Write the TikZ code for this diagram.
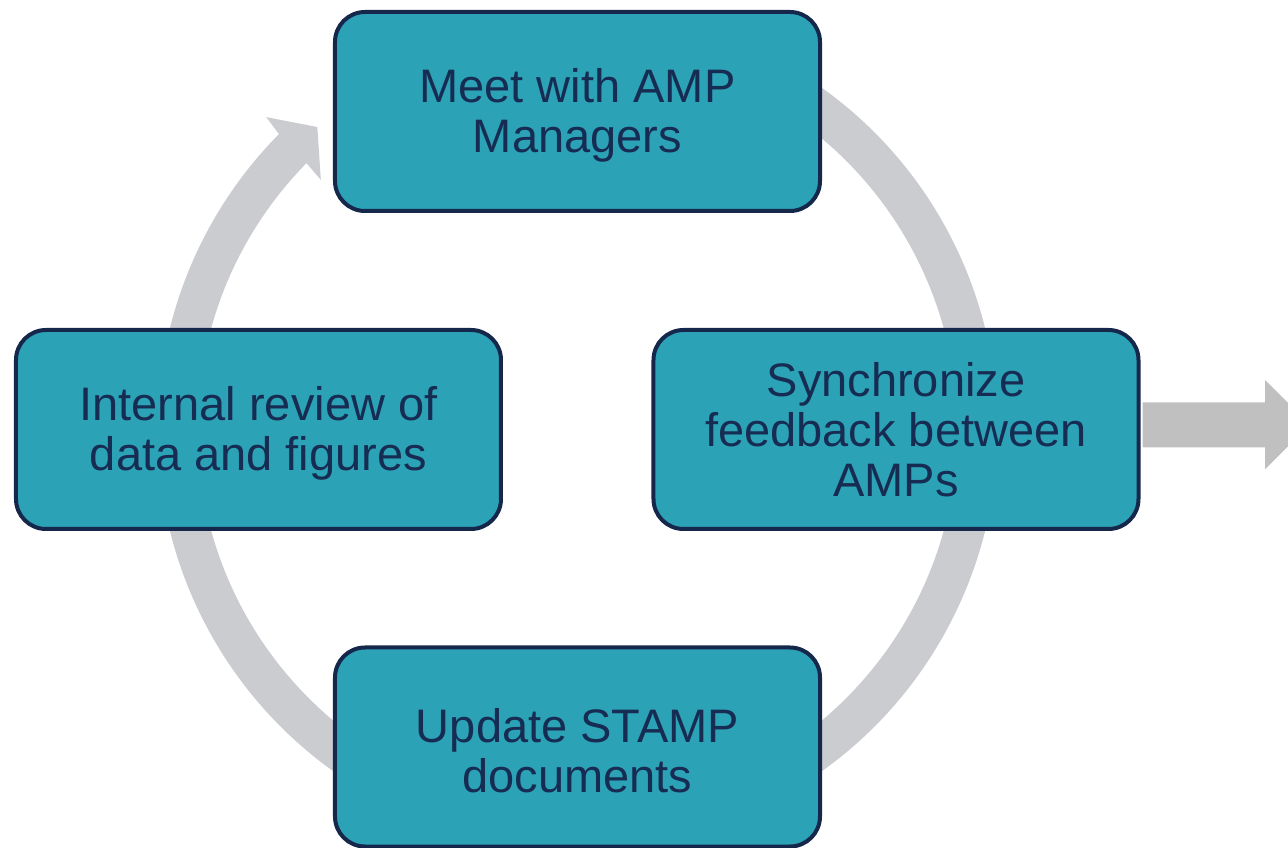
\documentclass[tikz,border=0pt]{standalone}
\usepackage{fontspec}
\setmainfont{Liberation Sans}
\definecolor{boxfill}{HTML}{2CA2B7}
\definecolor{boxline}{HTML}{15284B}
\definecolor{textnavy}{HTML}{172C52}
\definecolor{ringgray}{HTML}{CBCCD0}
\definecolor{arrowgray}{HTML}{C0C0C0}
% tall strut on the first line of two-line labels, sets them a little lower
\newcommand{\toplift}{\rule{0pt}{42pt}}
\begin{document}
\begin{tikzpicture}[x=1pt,y=1pt,
  stepbox/.style={rectangle, rounded corners=30pt, fill=boxfill, draw=boxline,
    line width=4pt, minimum width=485pt, minimum height=199pt, inner sep=0pt,
    align=center, text=textnavy, font=\fontsize{47}{50}\selectfont}]
\useasboundingbox (-577.5,-418.5) rectangle (710.5,429.5);

% circular cycle arrow (clockwise), head at upper left
\fill[ringgray]
  (65:420) arc[start angle=65, end angle=-224.7, radius=420]
  -- (-225.1:441) -- (-229.3:399) -- (-224.2:358) -- (-224.5:380)
  arc[start angle=-224.5, end angle=65, radius=380] -- cycle;

% process steps
\node[stepbox] (meet)  at (0,318)      {\toplift Meet with AMP\\Managers};
\node[stepbox] (sync)  at (318.5,0)    {Synchronize\\feedback between\\AMPs};
\node[stepbox] (upd)   at (0,-317.5)   {\toplift Update STAMP\\documents};
\node[stepbox] (rev)   at (-319,0)     {\toplift Internal review of\\data and figures};

% outgoing block arrow
\fill[arrowgray]
  ([xshift=2pt,yshift=27.2pt]sync.east) -- (687.5,27.2) -- (687.5,49.5)
  -- (732.5,4.85) -- (687.5,-39.8) -- (687.5,-17.8)
  -- ([xshift=2pt,yshift=-17.8pt]sync.east) -- cycle;
\end{tikzpicture}
\end{document}
